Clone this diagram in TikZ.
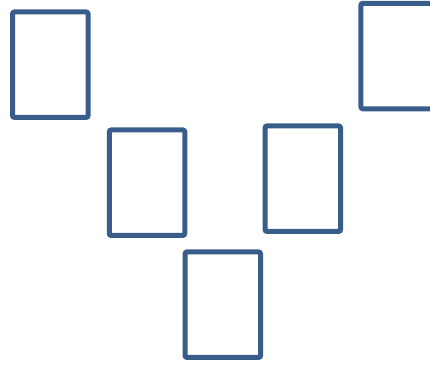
\documentclass[tikz,border=0pt]{standalone}
\usepackage{xcolor}
\usepackage{tikz}
\definecolor{cadreblue}{HTML}{385D8A}
\tikzset{
  cadre/.style={rectangle, rounded corners=2pt, draw=cadreblue, line width=5pt, fill=white,
                inner sep=0pt, minimum width=75.5pt, minimum height=105.5pt},
}

\begin{document}
\begin{tikzpicture}[x=1pt, y=-1pt]
\clip (0,0) rectangle (430,367);
\useasboundingbox (0,0) rectangle (430,367);
\node[cadre] (b1) at (50.3,64.7) {};
\node[cadre] (b2) at (147,182.7) {};
\node[cadre] (b3) at (222.8,304.7) {};
\node[cadre] (b4) at (302.8,178.7) {};
\node[cadre] (b5) at (398.7,56) {};
\end{tikzpicture}
\end{document}
